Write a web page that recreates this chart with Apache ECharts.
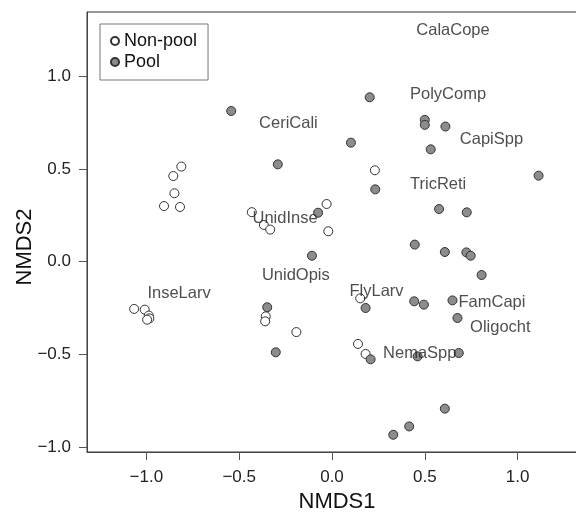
<!DOCTYPE html>
<html>
<head>
<meta charset="utf-8">
<script src="https://cdn.jsdelivr.net/npm/echarts@6/dist/echarts.min.js"></script>
<style>
html,body{margin:0;padding:0;background:#fff;}
#chart{width:576px;height:518px;}
</style>
</head>
<body>
<div id="chart"></div>
<script>
// ---- data ----
const nonPoolX = [-0.812, -0.855, -0.849, -0.905, -0.819, -0.432, 0.231, -0.029, -0.367, -0.333, -0.020,
                  -1.066, -1.009, -0.987, -0.984, -0.996, -0.357, -0.360, -0.192, 0.152, 0.140, 0.181];
const nonPoolY = [0.513, 0.462, 0.369, 0.300, 0.295, 0.267, 0.493, 0.311, 0.198, 0.173, 0.164,
                  -0.255, -0.259, -0.291, -0.306, -0.313, -0.295, -0.322, -0.380, -0.198, -0.444, -0.498];
const poolX = [-0.543, 0.203, 0.102, -0.292, 0.233, -0.075, 0.500, 0.500, 0.611, 0.532, 1.113, 0.577, 0.726,
               -0.108, 0.446, 0.608, 0.724, 0.747, 0.806, -0.349, 0.181, 0.443, 0.495, 0.649, 0.676,
               -0.303, 0.208, 0.461, 0.683, 0.608, 0.416, 0.330];
const poolY = [0.813, 0.887, 0.642, 0.525, 0.390, 0.264, 0.765, 0.738, 0.729, 0.606, 0.464, 0.284, 0.266,
               0.032, 0.092, 0.052, 0.050, 0.032, -0.072, -0.246, -0.250, -0.214, -0.232, -0.209, -0.304,
               -0.489, -0.527, -0.511, -0.493, -0.793, -0.889, -0.934];
const speciesNames = ["CalaCope", "PolyComp", "CeriCali", "CapiSpp", "TricReti", "UnidInse", "UnidOpis",
                      "InseLarv", "FlyLarv", "FamCapi", "Oligocht", "NemaSpp"];
const speciesX = [0.652, 0.625, -0.235, 0.859, 0.572, -0.253, -0.195, -0.824, 0.240, 0.862, 0.907, 0.473];
const speciesY = [1.250, 0.900, 0.746, 0.657, 0.419, 0.234, -0.074, -0.173, -0.160, -0.219, -0.354, -0.497];
const tickValues = [-1, -0.5, 0, 0.5, 1];
const tickLabels = ["\u22121.0", "\u22120.5", "0.0", "0.5", "1.0"];

const FONT = "'Liberation Sans', Arial, Helvetica, sans-serif";
function zip(xs, ys) { return xs.map((x, i) => [x, ys[i]]); }
function labelFor(v) {
  const i = tickValues.findIndex(t => Math.abs(t - v) < 1e-9);
  return i >= 0 ? tickLabels[i] : '';
}

const chart = echarts.init(document.getElementById('chart'), null, {renderer: 'canvas'});
const axisCommon = {
  type: 'value',
  nameLocation: 'middle',
  axisLine: {show: true, onZero: false, lineStyle: {color: '#444', width: 1}},
  axisTick: {show: true, inside: false, length: 8, customValues: tickValues, lineStyle: {color: '#555', width: 1}},
  axisLabel: {customValues: tickValues, formatter: labelFor, fontFamily: FONT, fontSize: 17, color: '#222'},
  splitLine: {show: false}
};

chart.setOption({
  animation: false,
  backgroundColor: '#fff',
  grid: {left: 87, top: 12, width: 490, height: 440, outerBoundsMode: 'none', containLabel: false,
         show: true, borderColor: '#333', borderWidth: 1, backgroundColor: 'transparent'},
  xAxis: Object.assign({}, axisCommon, {
    min: -1.32, max: 1.32, name: 'NMDS1', nameGap: 38,
    nameTextStyle: {fontFamily: FONT, fontSize: 22, color: '#111', padding: [0, 0, 0, 10]},
    axisLabel: Object.assign({}, axisCommon.axisLabel, {margin: 17})
  }),
  yAxis: Object.assign({}, axisCommon, {
    min: -1.027, max: 1.347, name: 'NMDS2', nameGap: 51, nameMoveOverlap: false,
    nameTextStyle: {fontFamily: FONT, fontSize: 22, color: '#111', padding: [0, 30, 0, 0]},
    axisLabel: Object.assign({}, axisCommon.axisLabel, {margin: 16})
  }),
  legend: {
    show: true, orient: 'vertical', left: 100, top: 24,
    data: ['Non-pool', 'Pool'],
    icon: 'circle', itemWidth: 8, itemHeight: 8, itemGap: 3,
    padding: [8, 11, 9, 10],
    borderColor: '#777', borderWidth: 1, backgroundColor: '#fff',
    textStyle: {fontFamily: FONT, fontSize: 18, color: '#111', lineHeight: 18}
  },
  series: [
    {
      name: 'Non-pool', type: 'scatter', symbol: 'circle', symbolSize: 9,
      data: zip(nonPoolX, nonPoolY),
      itemStyle: {color: '#ffffff', borderColor: '#333', borderWidth: 1, opacity: 1},
      emphasis: {disabled: true}, z: 2
    },
    {
      name: 'Pool', type: 'scatter', symbol: 'circle', symbolSize: 9,
      data: zip(poolX, poolY),
      itemStyle: {color: '#8c8c8c', borderColor: '#333', borderWidth: 1, opacity: 1},
      emphasis: {disabled: true}, z: 3
    },
    {
      name: 'species', type: 'scatter', symbol: 'circle', symbolSize: 1, silent: true,
      data: speciesNames.map((n, i) => ({name: n, value: [speciesX[i], speciesY[i]]})),
      label: {show: true, position: 'inside', formatter: p => p.name, fontFamily: FONT, fontSize: 16.5, color: '#222'},
      itemStyle: {color: 'rgba(0,0,0,0)', borderWidth: 0},
      emphasis: {disabled: true}, z: 5
    }
  ]
});
</script>
</body>
</html>
